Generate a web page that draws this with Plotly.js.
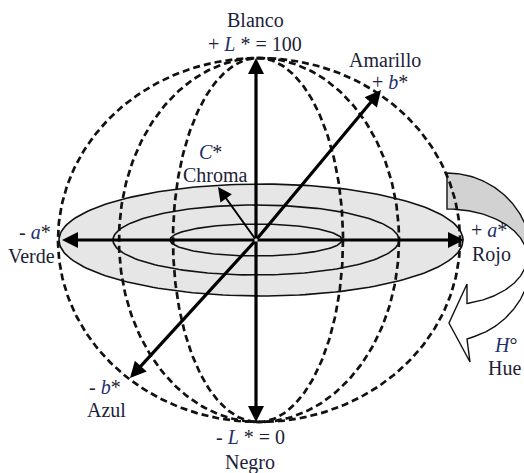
<!DOCTYPE html>
<html>
<head>
<meta charset="utf-8">
<script src="https://cdn.plot.ly/plotly-3.0.1.min.js"></script>
<style>html,body{margin:0;padding:0;background:#fff;}#plot{width:524px;height:473px;}</style>
</head>
<body>
<div id="plot"></div>
<script>
// ---- geometry of the CIELAB diagram (pixel-like units, y down) ----
const center = [256, 240];
const sphereCy = 240;
const sphereRy = 182;
const meridianCx = [259, 259, 258];
const meridianRx = [201, 140, 85];
const ringCx = [261, 256, 256];
const ringRx = [202, 143, 86];
const ringRy = [56, 35, 16];
const axisHeadX = [256, 256, 62, 464, 381, 130];
const axisHeadY = [58, 422, 240, 240, 90, 378];
const chromaHead = [218, 187];
const hueArc = {cx: 447, cy: 257};
const hueOuter = [85, 84];
const hueInner = [80, 48];
const hueHead = [[467, 339], [470, 362], [449, 323], [467, 284], [467, 303]];
const labelText = ['Blanco', '+ <i>L</i> * = 100', 'Amarillo', '+ <i>b</i>*', '<i>C</i>*', 'Chroma',
  '- <i>a</i>*', 'Verde', '+ <i>a</i>*', 'Rojo', '<i>H</i>°', 'Hue', '- <i>b</i>*', 'Azul',
  '- <i>L</i> * = 0', 'Negro'];
const labelX = [255, 255, 385, 390, 210, 215, 35, 31, 489, 491, 505, 504, 105, 106, 250, 250];
const labelY = [20, 44, 60, 82, 152, 175, 232, 256, 230, 254, 345, 368, 387, 410, 437, 462];

function ellipse(cx, cy, rx, ry, t0, t1, n) {
  const xs = [], ys = [];
  for (let i = 0; i <= n; i++) {
    const t = t0 + (t1 - t0) * i / n;
    xs.push(cx + rx * Math.cos(t));
    ys.push(cy + ry * Math.sin(t));
  }
  return [xs, ys];
}

const traces = [];
// equatorial disk rings
ringRx.forEach((rx, i) => {
  const [xs, ys] = ellipse(ringCx[i], sphereCy, rx, ringRy[i], 0, 2 * Math.PI, 200);
  traces.push({x: xs, y: ys, mode: 'lines', type: 'scatter',
    fill: i === 0 ? 'toself' : 'none', fillcolor: '#e6e6e6',
    line: {color: '#111', width: 1.6}});
});

// hue arrow
const tEndO = Math.acos((hueHead[0][0] - hueArc.cx) / hueOuter[0]);
const tEndI = Math.acos((hueHead[4][0] - hueArc.cx) / hueInner[0]);
// gray upper part
{
  const o = ellipse(hueArc.cx, hueArc.cy, hueOuter[0], hueOuter[1], -Math.PI / 2, 0, 80);
  const inn = ellipse(hueArc.cx, hueArc.cy, hueInner[0], hueInner[1], 0, -Math.PI / 2, 80);
  traces.push({x: o[0].concat(inn[0]), y: o[1].concat(inn[1]), mode: 'none', type: 'scatter',
    fill: 'toself', fillcolor: '#d2d2d2'});
}
// white lower part
{
  const o = ellipse(hueArc.cx, hueArc.cy, hueOuter[0], hueOuter[1], 0, tEndO, 80);
  const inn = ellipse(hueArc.cx, hueArc.cy, hueInner[0], hueInner[1], tEndI, 0, 80);
  const xs = o[0].concat(hueHead.map(p => p[0])).concat(inn[0]);
  const ys = o[1].concat(hueHead.map(p => p[1])).concat(inn[1]);
  traces.push({x: xs, y: ys, mode: 'none', type: 'scatter', fill: 'toself', fillcolor: '#ffffff'});
}
// outline of hue arrow
{
  const o = ellipse(hueArc.cx, hueArc.cy, hueOuter[0], hueOuter[1], -Math.PI / 2, tEndO, 160);
  const inn = ellipse(hueArc.cx, hueArc.cy, hueInner[0], hueInner[1], tEndI, -Math.PI / 2, 160);
  const xs = o[0].concat(hueHead.map(p => p[0])).concat(inn[0]).concat([o[0][0]]);
  const ys = o[1].concat(hueHead.map(p => p[1])).concat(inn[1]).concat([o[1][0]]);
  traces.push({x: xs, y: ys, mode: 'lines', type: 'scatter', line: {color: '#111', width: 1.4}});
}

// meridians (dashed)
meridianRx.forEach((rx, i) => {
  const [xs, ys] = ellipse(meridianCx[i], sphereCy, rx, sphereRy, 0, 2 * Math.PI, 300);
  traces.push({x: xs, y: ys, mode: 'lines', type: 'scatter',
    line: {color: '#111', width: 2.7, dash: '7px,4px'}});
});

const annotations = [];
axisHeadX.forEach((hx, i) => {
  annotations.push({x: hx, y: axisHeadY[i], ax: center[0], ay: center[1],
    xref: 'x', yref: 'y', axref: 'x', ayref: 'y', text: '', showarrow: true,
    arrowhead: 2, arrowsize: 1, arrowwidth: 3.2, arrowcolor: '#000'});
});
annotations.push({x: chromaHead[0], y: chromaHead[1], ax: center[0], ay: center[1],
  xref: 'x', yref: 'y', axref: 'x', ayref: 'y', text: '', showarrow: true,
  arrowhead: 2, arrowsize: 1.4, arrowwidth: 2, arrowcolor: '#000'});
labelText.forEach((t, i) => {
  annotations.push({x: labelX[i], y: labelY[i], xref: 'x', yref: 'y', showarrow: false,
    text: t.replace(/<i>/g, '<i><span style="color:#22306a">').replace(/<\/i>/g, '</span></i>'),
    font: {family: 'Liberation Serif, Times New Roman, serif', size: 20, color: '#1c2238'},
    xanchor: 'center', yanchor: 'middle'});
});

const layout = {
  width: 524, height: 473, margin: {l: 0, r: 0, t: 0, b: 0},
  paper_bgcolor: '#fff', plot_bgcolor: '#fff', showlegend: false,
  xaxis: {range: [0, 524], visible: false, fixedrange: true},
  yaxis: {range: [473, 0], visible: false, fixedrange: true},
  annotations: annotations, hovermode: false
};
Plotly.newPlot('plot', traces, layout, {staticPlot: true, displayModeBar: false});
</script>
</body>
</html>
